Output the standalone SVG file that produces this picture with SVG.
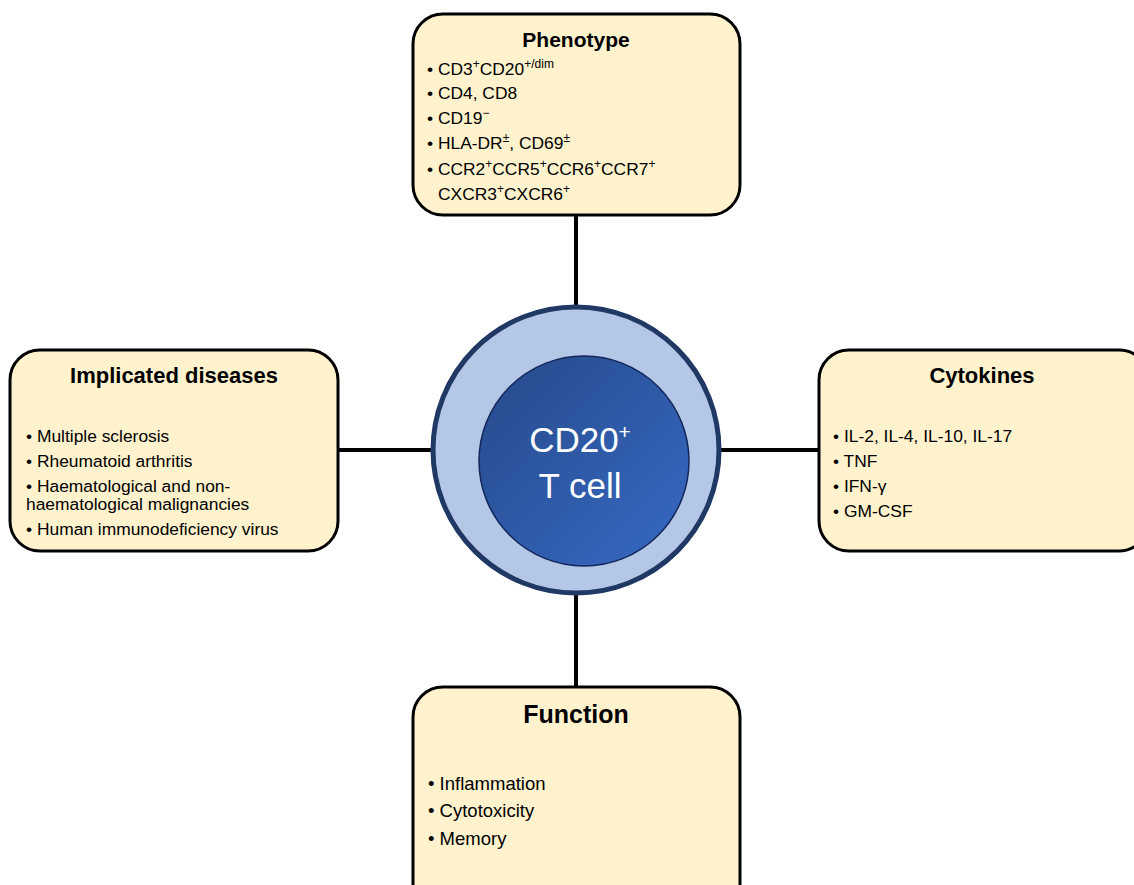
<svg xmlns="http://www.w3.org/2000/svg" width="1134" height="885" viewBox="0 0 1134 885">
<style>
.box{fill:#fff2cc;stroke:#000;stroke-width:3}
.t{font-family:"Liberation Sans",Arial,sans-serif;font-weight:bold;font-size:22px;fill:#000;text-anchor:middle}
.b{font-family:"Liberation Sans",Arial,sans-serif;font-size:17.4px;fill:#000}
.s{font-size:12px}
.con{stroke:#000;stroke-width:4;fill:none}
.ct{font-family:"Liberation Sans",Arial,sans-serif;font-size:35px;fill:#fff;text-anchor:middle}
</style>
<defs>
<linearGradient id="g" x1="0" y1="0" x2="1" y2="1">
<stop offset="0" stop-color="#264a8a"/>
<stop offset="1" stop-color="#3769c4"/>
</linearGradient>
</defs>
<rect width="1134" height="885" fill="#fff"/>
<g id="connectors">
<line class="con" x1="576" y1="215" x2="576" y2="306"/>
<line class="con" x1="576" y1="594" x2="576" y2="688"/>
<line class="con" x1="338" y1="450" x2="432" y2="450"/>
<line class="con" x1="720" y1="450" x2="819" y2="450"/>
</g>
<g id="phenotype">
<rect class="box" x="413" y="14" width="327" height="201" rx="30"/>
<text class="t" x="576" y="47" style="font-size:21px">Phenotype</text>
<text class="b" x="427" y="75">• CD3<tspan class="s" dy="-7">+</tspan><tspan dy="7">CD20</tspan><tspan class="s" dy="-7">+/dim</tspan></text>
<text class="b" x="427" y="99">• CD4, CD8</text>
<text class="b" x="427" y="124">• CD19<tspan class="s" dy="-7">−</tspan></text>
<text class="b" x="427" y="149">• HLA-DR<tspan class="s" dy="-7">±</tspan><tspan dy="7">, CD69</tspan><tspan class="s" dy="-7">±</tspan></text>
<text class="b" x="427" y="175">• CCR2<tspan class="s" dy="-7">+</tspan><tspan dy="7">CCR5</tspan><tspan class="s" dy="-7">+</tspan><tspan dy="7">CCR6</tspan><tspan class="s" dy="-7">+</tspan><tspan dy="7">CCR7</tspan><tspan class="s" dy="-7">+</tspan></text>
<text class="b" x="438" y="200">CXCR3<tspan class="s" dy="-7">+</tspan><tspan dy="7">CXCR6</tspan><tspan class="s" dy="-7">+</tspan></text>
</g>
<g id="diseases">
<rect class="box" x="10" y="350" width="328" height="201" rx="30"/>
<text class="t" x="174" y="383">Implicated diseases</text>
<text class="b" x="26" y="442">• Multiple sclerosis</text>
<text class="b" x="26" y="467">• Rheumatoid arthritis</text>
<text class="b" x="26" y="492">• Haematological and non-</text>
<text class="b" x="26" y="510">haematological malignancies</text>
<text class="b" x="26" y="535">• Human immunodeficiency virus</text>
</g>
<g id="cytokines">
<rect class="box" x="819" y="350" width="330" height="201" rx="30"/>
<text class="t" x="982" y="383">Cytokines</text>
<text class="b" x="833" y="442">• IL-2, IL-4, IL-10, IL-17</text>
<text class="b" x="833" y="467">• TNF</text>
<text class="b" x="833" y="492">• IFN-γ</text>
<text class="b" x="833" y="517">• GM-CSF</text>
</g>
<g id="function">
<rect class="box" x="413" y="687" width="327" height="230" rx="30"/>
<text class="t" x="576" y="723" style="font-size:25px">Function</text>
<text class="b" x="428" y="790" style="font-size:18.5px">• Inflammation</text>
<text class="b" x="428" y="817" style="font-size:18.5px">• Cytotoxicity</text>
<text class="b" x="428" y="845" style="font-size:18.5px">• Memory</text>
</g>
<g id="cell">
<circle cx="576" cy="450" r="143" fill="#b4c7e7" stroke="#1f3864" stroke-width="5"/>
<circle cx="584" cy="461" r="105" fill="url(#g)" stroke="#13275a" stroke-width="1.5"/>
<text class="ct" x="580" y="452">CD20<tspan dy="-13" style="font-size:21px">+</tspan></text>
<text class="ct" x="580" y="498">T cell</text>
</g>
</svg>
